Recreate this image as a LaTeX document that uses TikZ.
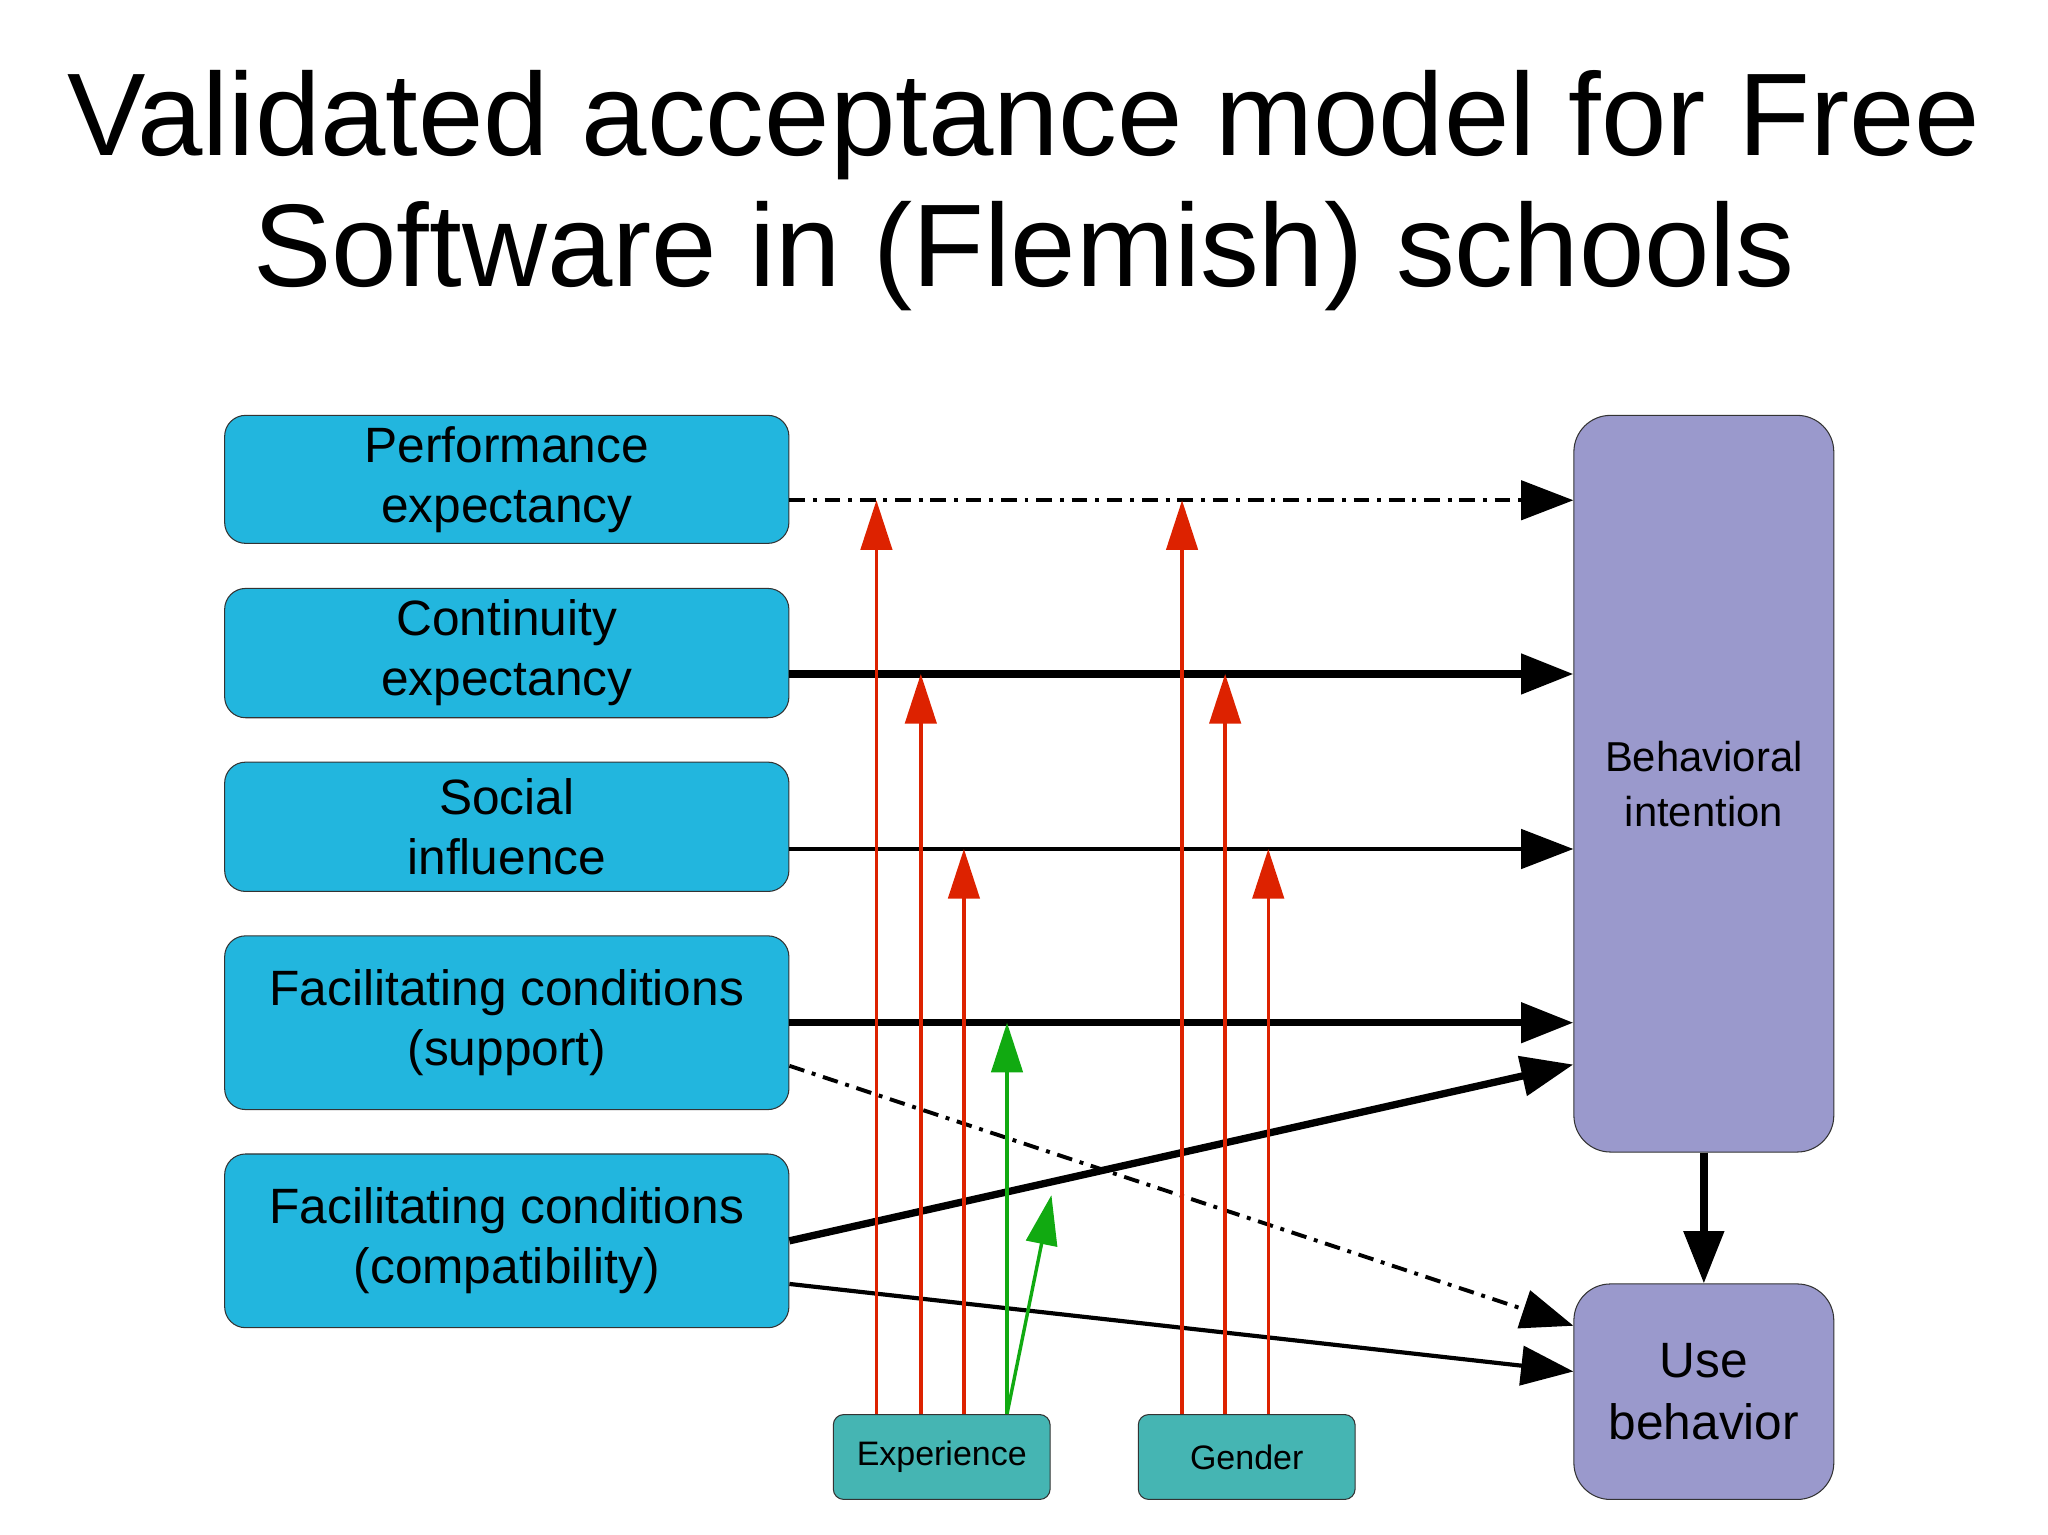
\documentclass[tikz,border=0pt]{standalone}
\usepackage{fontspec}
\setmainfont{Liberation Sans}
\usetikzlibrary{arrows.meta}
\definecolor{cyanbox}{HTML}{22B6DE}
\definecolor{purbox}{HTML}{9A99CC}
\definecolor{tealbox}{HTML}{45B5B3}
\definecolor{redarr}{HTML}{DD2200}
\definecolor{grnarr}{HTML}{11AA11}
\begin{document}
\begin{tikzpicture}[x=0.5pt,y=-0.5pt,
  lbox/.style={draw=black!80,fill=cyanbox,rounded corners=8pt,minimum width=216pt,align=center,font=\fontsize{19pt}{23pt}\selectfont,inner sep=0pt},
  pbox/.style={draw=black!80,fill=purbox,rounded corners=14pt,minimum width=99.5pt,align=center,inner sep=0pt},
  tbox/.style={draw=black!80,fill=tealbox,rounded corners=4pt,minimum width=83pt,minimum height=32.5pt,font=\fontsize{13pt}{15pt}\selectfont,inner sep=0pt},
  bigtip/.style={-{Triangle[length=20pt,width=15pt]}},
  redtip/.style={-{Triangle[length=19pt,width=12pt]},redarr,line width=1.3pt},
  grntip/.style={-{Triangle[length=19pt,width=12pt]},grnarr,line width=1.3pt},
  ddot/.style={dash pattern=on 6pt off 3pt on 1.5pt off 3pt}]
\useasboundingbox (0,0) rectangle (1568,1175);
\node[font=\fontsize{45pt}{50pt}\selectfont,align=center] (title) at (784,146) {Validated acceptance model for Free\\Software in (Flemish) schools};
\node[lbox,minimum height=49pt] (pe) at (388,367) {Performance\\expectancy};
\node[lbox,minimum height=49.5pt] (ce) at (388,500) {Continuity\\expectancy};
\node[lbox,minimum height=49.5pt] (si) at (388,633) {Social\\influence};
\node[lbox,minimum height=66.5pt] (fs) at (388,783) {Facilitating conditions\\(support)};
\node[lbox,minimum height=66.5pt] (fc) at (388,950) {Facilitating conditions\\(compatibility)};
\node[pbox,minimum height=282pt,font=\fontsize{16pt}{21pt}\selectfont] (bi) at (1304.5,600) {Behavioral\\intention};
\node[pbox,minimum height=82.5pt,font=\fontsize{19pt}{24pt}\selectfont] (ub) at (1304.5,1065.5) {Use\\behavior};
\node[tbox] (ex) at (721,1115.5) {Experience};
\node[tbox] (ge) at (954.5,1115.5) {Gender};
% main arrows
\draw[bigtip,line width=1.5pt,ddot] (pe.east |- 0,383) coordinate (a1) -- (bi.west |- a1) coordinate (b1);
\draw[bigtip,line width=2.8pt] (ce.east |- 0,516) coordinate (a2) -- (bi.west |- a2) coordinate (b2);
\draw[bigtip,line width=1.6pt] (si.east |- 0,650) coordinate (a3) -- (bi.west |- a3) coordinate (b3);
\draw[bigtip,line width=2.8pt] (fs.east |- 0,783) coordinate (a4) -- (bi.west |- a4) coordinate (b4);
\draw[bigtip,line width=2.8pt] (fc.east |- 0,950) -- (bi.west |- 0,815);
\draw[bigtip,line width=1.5pt,ddot] (fs.east |- 0,816) -- (ub.west |- 0,1015);
\draw[bigtip,line width=1.6pt] (fc.east |- 0,983) -- (ub.west |- 0,1050);
\draw[bigtip,line width=2.8pt] (bi.south) -- (ub.north);
% moderators
\draw[redtip] (ex.north -| 671,0) -- (671,383);
\draw[redtip] (ex.north -| 705,0) -- (705,516);
\draw[redtip] (ex.north -| 738,0) -- (738,650);
\draw[grntip] (ex.north -| 771,0) -- (771,783);
\draw[grntip] (ex.north -| 771,0) -- (805,915);
\draw[redtip] (ge.north -| 905,0) -- (905,383);
\draw[redtip] (ge.north -| 938,0) -- (938,516);
\draw[redtip] (ge.north -| 971,0) -- (971,650);
\end{tikzpicture}
\end{document}
